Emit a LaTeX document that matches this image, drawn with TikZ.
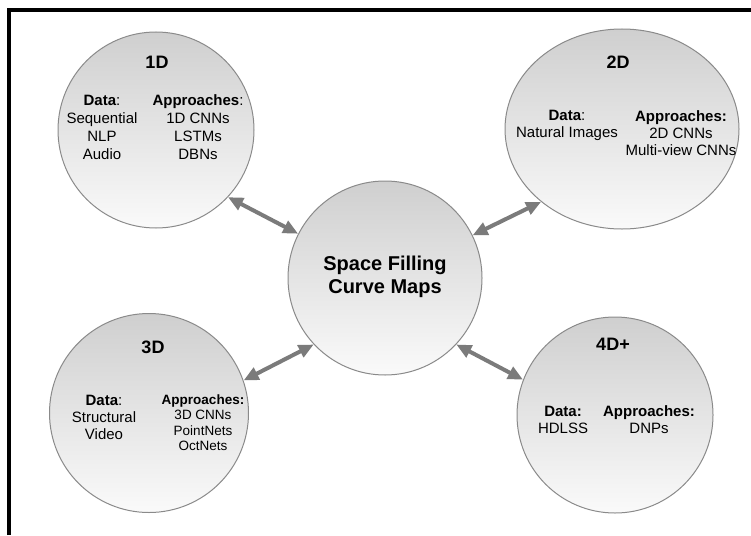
\documentclass[tikz,border=0pt]{standalone}
\usepackage{fontspec}
\setmainfont{Liberation Sans}
\usetikzlibrary{arrows.meta,shapes.geometric}
\definecolor{rimgray}{HTML}{8A8A8A}
\definecolor{linkgray}{HTML}{7B7B7B}
\definecolor{shadetop}{HTML}{CFCFCF}
\definecolor{shadebot}{HTML}{FAFAFA}
\begin{document}
\begin{tikzpicture}[x=1pt,y=-1pt,
  shell/.style={draw=rimgray, line width=1pt, top color=shadetop, bottom color=shadebot, inner sep=0pt},
  bubble/.style={shell, circle},
  oval/.style={shell, ellipse},
  link/.style={draw=linkgray, line width=4pt,
    {Triangle[length=15pt,width=13pt]}-{Triangle[length=15pt,width=13pt]}},
  title/.style={inner sep=0pt, font=\fontsize{18}{21}\selectfont\bfseries},
  body/.style={align=center, inner sep=0pt, font=\fontsize{15}{18}\selectfont},
  small/.style={align=center, inner sep=0pt, font=\fontsize{13.5}{15.5}\selectfont}]
\useasboundingbox (0,0) rectangle (751,535);

% frame along the top and left edges
\draw[line width=4pt] (9,535) -- (9,10) -- (751,10);

% the five bubbles
\node[bubble, minimum size=196pt] (one) at (156,130) {};
\node[oval, minimum width=234pt, minimum height=200pt] (two) at (622,129) {};
\node[bubble, minimum size=194pt] (hub) at (385,278) {};
\node[bubble, minimum size=199pt] (three) at (149,413) {};
\node[bubble, minimum size=196pt] (four) at (615,415) {};

% double-headed links to the hub
\draw[link] (one.-43) -- (hub.153);
\draw[link] (two.222) -- (hub.26);
\draw[link] (three.19) -- (hub.223);
\draw[link] (four.159) -- (hub.317);

% hub text
\node[align=center, inner sep=0pt, font=\fontsize{20}{23}\selectfont\bfseries] (hubtxt) at (385,277)
  {Space Filling\\Curve Maps};

% 1D
\node[title] (onet) at (157,62) {1D};
\node[body] (oned) at (102,127) {\textbf{Data}:\\Sequential\\NLP\\Audio};
\node[body] (onea) at (198,127) {\textbf{Approaches}:\\1D CNNs\\LSTMs\\DBNs};

% 2D
\node[title] (twot) at (618,62) {2D};
\node[body, font=\fontsize{15}{17}\selectfont] (twod) at (567,125) {\textbf{Data}:\\Natural Images};
\node[body, font=\fontsize{15}{17}\selectfont] (twoa) at (681,133) {\textbf{Approaches:}\\2D CNNs\\Multi-view CNNs};

% 3D
\node[title] (threet) at (153,347) {3D};
\node[body, font=\fontsize{15}{17}\selectfont] (threed) at (104,417) {\textbf{Data}:\\Structural\\Video};
\node[small] (threea) at (203,422.5) {\textbf{Approaches:}\\3D CNNs\\PointNets\\OctNets};

% 4D+
\node[title] (fourt) at (613,344) {4D+};
\node[body, font=\fontsize{15}{17}\selectfont] (fourd) at (563,419.5) {\textbf{Data:}\\HDLSS};
\node[body, font=\fontsize{15}{17}\selectfont] (foura) at (649,419.5) {\textbf{Approaches:}\\DNPs};
\end{tikzpicture}
\end{document}
